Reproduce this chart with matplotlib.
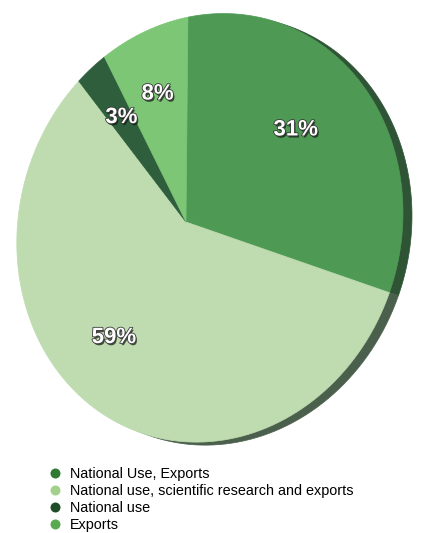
import numpy as np
import matplotlib.pyplot as plt
import matplotlib.patheffects as pe
from matplotlib.patches import Polygon
from matplotlib.lines import Line2D

labels = ['National Use, Exports', 'National use, scientific research and exports',
          'National use', 'Exports']
values = [31, 59, 3, 8]
pct_labels = ['31%', '59%', '3%', '8%']

face_colors = ['#4e9a55', '#bfdcb0', '#2e5e3c', '#7dc676']
side_colors = ['#2f5435', '#4b5f4d', '#24432c', '#4f7f4b']
legend_colors = ['#2f7a33', '#a3d08c', '#1e4d28', '#5aab50']

W, H = 422, 533
fig = plt.figure(figsize=(W / 100, H / 100), dpi=100)
fig.patch.set_facecolor('white')

# let matplotlib work out the wedge angles
tmp = fig.add_axes([0, 0, 0.1, 0.1])
wedges, _ = tmp.pie(values, startangle=90, counterclock=False)
angles = [(w.theta1, w.theta2) for w in wedges]
tmp.remove()

ax = fig.add_axes([0, 0, 1, 1])
ax.set_xlim(0, W)
ax.set_ylim(H, 0)
ax.axis('off')


# tilted disc: projective map of the unit circle into pixel space
def proj(u, v):
    den = 1 - 0.124 * u + 0.035 * v
    x = 186 + (190 * u + 2 * v) / den
    y = 222 + (-13.5 * u - 212 * v) / den
    return x, y


def wedge_xy(t1, t2, r=1.0):
    t = np.radians(np.linspace(t1, t2, 120))
    u = np.r_[0, r * np.cos(t)]
    v = np.r_[0, r * np.sin(t)]
    return np.column_stack(proj(u, v))


# side of the disc (thickness)
for (t1, t2), c in zip(angles, side_colors):
    xy = wedge_xy(t1, t2) + np.array([9, 3])
    ax.add_patch(Polygon(xy, closed=True, fc=c, ec=c, lw=0.5))

# top face
for (t1, t2), c in zip(angles, face_colors):
    xy = wedge_xy(t1, t2)
    ax.add_patch(Polygon(xy, closed=True, fc=c, ec=c, lw=0.5))

effects = [pe.SimplePatchShadow(offset=(1, -1.5), shadow_rgbFace='#111111', alpha=0.7),
           pe.Stroke(linewidth=1.2, foreground='#3a3a3a'),
           pe.Normal()]
for (t1, t2), txt in zip(angles, pct_labels):
    mid = np.radians((t1 + t2) / 2)
    x, y = proj(0.66 * np.cos(mid), 0.66 * np.sin(mid))
    ax.text(x, y, txt, ha='center', va='center', color='white', fontsize=16,
            fontweight='bold', family='Liberation Sans', path_effects=effects)

handles = [Line2D([], [], marker='o', ls='', markersize=7.2, color=c, markeredgewidth=0)
           for c in legend_colors]
fig.legend(handles, labels, loc='upper left', bbox_to_anchor=(47.8 / W, 1 - 467 / H),
           frameon=False, borderpad=0, borderaxespad=0, handlelength=1.0,
           handletextpad=0.54, labelspacing=0.21,
           prop={'family': 'Liberation Sans', 'size': 10.4})

fig.savefig('out.png', dpi=100, facecolor='white')
